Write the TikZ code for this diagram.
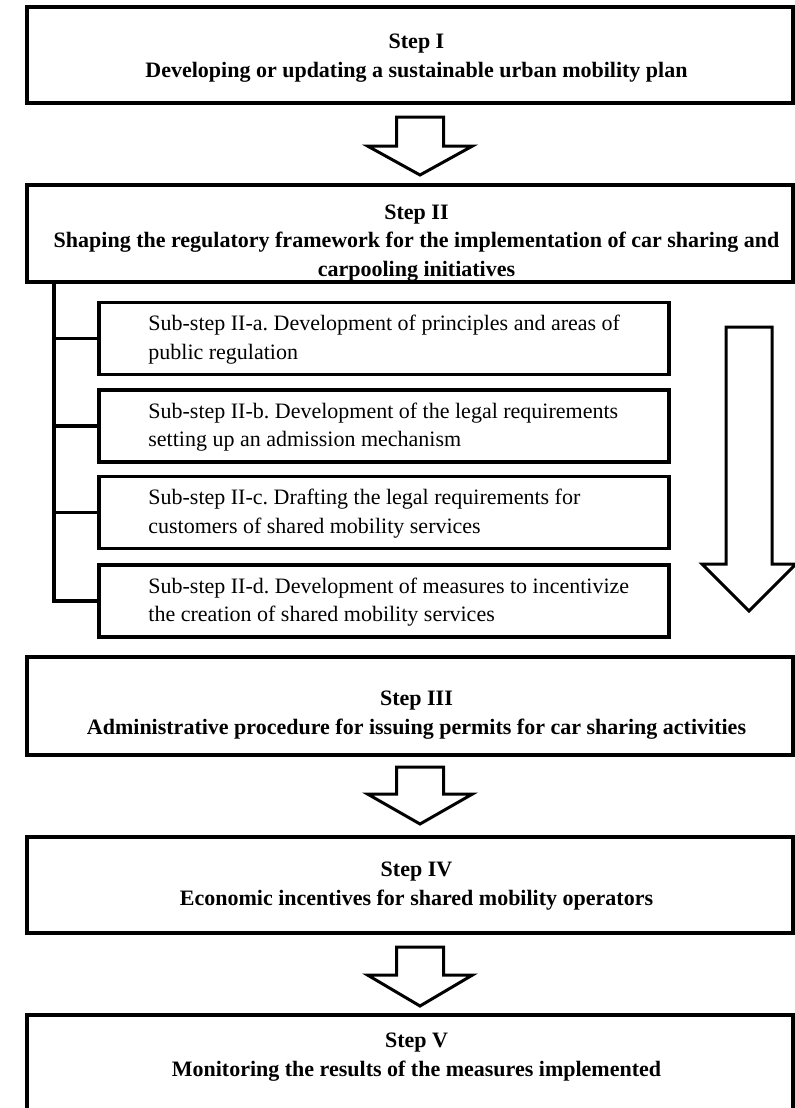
\documentclass[tikz,border=0pt]{standalone}
\usepackage{fontspec}
\setmainfont{Liberation Serif}
\usepackage{tikz}
\newcommand{\hollowarrow}[5]{\draw[hollow] (#1) ++(-#2,0) -- ++(0,#4) -- ++({#2-#3},0) -- ++(#3,#5) -- ++(#3,-#5) -- ++({#2-#3},0) -- ++(0,-#4) -- cycle;}
\tikzset{
	stepframe/.style={draw, line width=1.8pt, minimum width=383pt, inner sep=0pt},
	steptext/.style={align=center, inner sep=0pt, font=\bfseries\fontsize{11}{14.4}\selectfont},
	subframe/.style={draw, line width=1.8pt, minimum width=285pt, minimum height=36pt, inner sep=0pt},
	subtext/.style={align=left, anchor=west, inner sep=0pt, font=\frenchspacing\fontsize{11}{14.25}\selectfont},
	trunk/.style={line width=1.6pt},
	hollow/.style={line width=1.5pt, line join=miter}
}

\begin{document}
\begin{tikzpicture}[x=0.5pt, y=-0.5pt]
	\useasboundingbox (0,0) rectangle (794,1108);

	% steps
	\node[stepframe, minimum height=48pt] (s1) at (410,55) {};
	\node[steptext] (s1t) at (416.5,58) {Step I\\Developing or updating a sustainable urban mobility plan};

	\node[stepframe, minimum height=48.5pt] (s2) at (410,233.5) {};
	\node[steptext] (s2t) at (416.5,243) {Step II\\Shaping the regulatory framework for the implementation of car sharing and\\carpooling initiatives};

	\node[stepframe, minimum height=49pt] (s3) at (410,706) {};
	\node[steptext] (s3t) at (416.5,715) {Step III\\Administrative procedure for issuing permits for car sharing activities};

	\node[stepframe, minimum height=48pt] (s4) at (410,885) {};
	\node[steptext] (s4t) at (416.5,886) {Step IV\\Economic incentives for shared mobility operators};

	\node[stepframe, minimum height=50pt] (s5) at (410,1065) {};
	\node[steptext] (s5t) at (416.5,1057) {Step V\\Monitoring the results of the measures implemented};

	% sub-steps
	\node[subframe] (suba) at (384,338.5) {};
	\node[subtext] (subat) at (148,339.5) {Sub-step II-a. Development of principles and areas of\\public regulation};
	\node[subframe] (subb) at (384,426) {};
	\node[subtext] (subbt) at (148,427) {Sub-step II-b. Development of the legal requirements\\setting up an admission mechanism};
	\node[subframe] (subc) at (384,512.5) {};
	\node[subtext] (subct) at (148,513.5) {Sub-step II-c. Drafting the legal requirements for\\customers of shared mobility services};
	\node[subframe] (subd) at (384,601) {};
	\node[subtext] (subdt) at (148,602) {Sub-step II-d. Development of measures to incentivize\\the creation of shared mobility services};

	\coordinate (root) at (54,282);
	\draw[trunk] (root) |- (subd.west);
	\draw[trunk] (root |- suba.west) -- (suba.west);
	\draw[trunk] (root |- subb.west) -- (subb.west);
	\draw[trunk] (root |- subc.west) -- (subc.west);

	% arrows
	\coordinate (a1) at (420,117);
	\hollowarrow{a1}{23.5}{52.5}{29}{29}
	\coordinate (a2) at (420,767);
	\hollowarrow{a2}{23.5}{52.5}{27}{30}
	\coordinate (a3) at (420,947);
	\hollowarrow{a3}{23.5}{52.5}{28}{31}
	\coordinate (a4) at (749,327);
	\hollowarrow{a4}{23}{47}{237}{47}

\end{tikzpicture}
\end{document}
